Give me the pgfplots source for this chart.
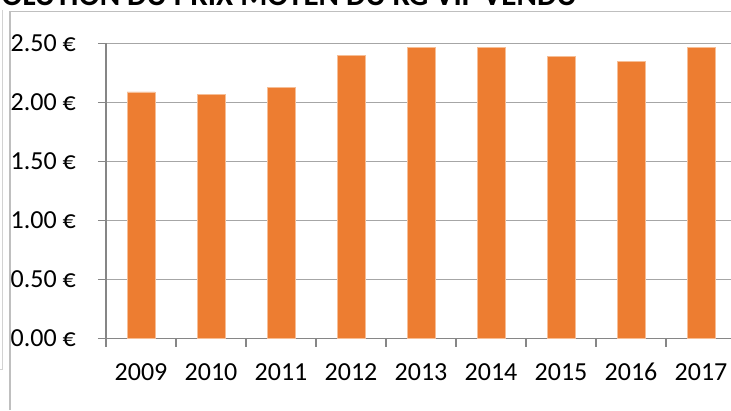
\documentclass[border=0pt]{standalone}
\usepackage{pgfplots}
\pgfplotsset{compat=1.18}
\usepackage{fontspec}
\setmainfont{Carlito}
\definecolor{barorange}{RGB}{237,125,49}
\definecolor{baredge}{RGB}{246,190,150}
\definecolor{axgray}{RGB}{134,134,134}
\definecolor{grgray}{RGB}{166,166,166}
\definecolor{frgray}{RGB}{191,191,191}
\begin{document}
\begin{tikzpicture}[x=1pt,y=1pt]
\useasboundingbox (0,0) rectangle (731,410);
\clip (0,0) rectangle (731,410);
\fill[white] (0,0) rectangle (731,410);
\draw[frgray, line width=1.2pt] (10,0) -- (10,398.5) -- (731,398.5);
\draw[frgray!70, line width=1pt] (2,400) -- (2,41) -- (0,41);
\node[anchor=base east, font=\fontsize{31}{36}\selectfont\bfseries, inner sep=0pt] at (577,404.5) {ÉVOLUTION DU PRIX MOYEN DU KG VIF VENDU};
\begin{axis}[
  at={(106pt,71.5pt)}, anchor=south west,
  scale only axis, width=630pt, height=295pt,
  xmin=-0.5, xmax=8.5, ymin=0, ymax=2.5,
  clip=false,
  axis x line*=bottom, axis y line*=left,
  axis line style={axgray, line width=1.3pt, -},
  ymajorgrids, grid style={grgray, line width=1.3pt},
  ytick={0,0.5,1,1.5,2,2.5},
  yticklabels={0.00 €, 0.50 €, 1.00 €, 1.50 €, 2.00 €, 2.50 €},
  xtick={-0.5,0.5,1.5,2.5,3.5,4.5,5.5,6.5,7.5,8.5},
  x tick label as interval,
  xticklabels={2009,2010,2011,2012,2013,2014,2015,2016,2017,},
  tick align=outside, major tick length=8pt,
  tick style={axgray, line width=1.3pt},
  tick label style={font=\fontsize{26}{30}\selectfont},
  yticklabel style={anchor=east, inner sep=0pt, xshift=-22pt},
  xticklabel style={anchor=base, inner sep=0pt, yshift=-34pt},
]
\addplot[ybar, bar width=0.4, fill=barorange, draw=baredge, line width=0.6pt]
  coordinates {(0,2.09) (1,2.07) (2,2.13) (3,2.40) (4,2.47) (5,2.47) (6,2.39) (7,2.35) (8,2.47)};
\end{axis}
\end{tikzpicture}
\end{document}
